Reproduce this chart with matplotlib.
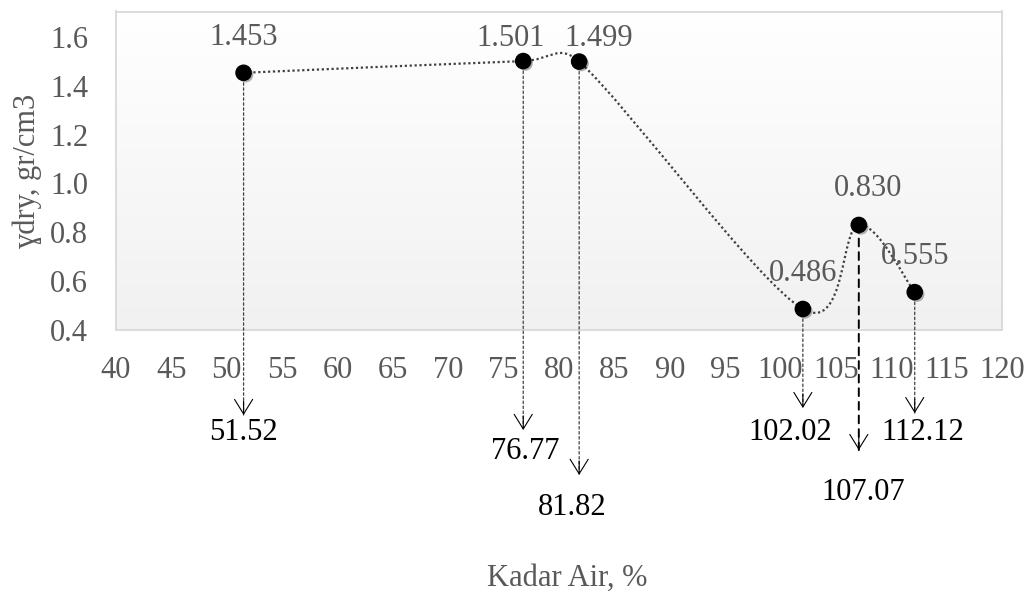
import numpy as np
import matplotlib
matplotlib.use("Agg")
import matplotlib.pyplot as plt
import matplotlib.transforms as mtransforms
from matplotlib.path import Path
from matplotlib.patches import PathPatch
from matplotlib.colors import LinearSegmentedColormap
import matplotlib.patheffects as pe

# ---------------- data ----------------
kadar_air = [51.52, 76.77, 81.82, 102.02, 107.07, 112.12]
gamma_dry = [1.453, 1.501, 1.499, 0.486, 0.830, 0.555]
point_labels = ["1.453", "1.501", "1.499", "0.486", "0.830", "0.555"]
x_labels = ["51.52", "76.77", "81.82", "102.02", "107.07", "112.12"]
x_ticks = list(range(40, 121, 5))
y_ticks = [0.4, 0.6, 0.8, 1.0, 1.2, 1.4, 1.6]

# ---------------- layout / style ----------------
FONT = ["Liberation Serif", "DejaVu Serif"]
plt.rcParams["font.family"] = FONT
GRAY = "#595959"
FS = 22

# offsets (pixels) for value labels above points
val_dx = [0, -13, 20, 0, 9, 0]
val_dy = [35, 23, 23, 35, 36, 36]
# arrow tip / label positions (axes fraction) and label x offsets (pixels)
tip_frac = [-0.267, -0.314, -0.455, -0.245, -0.377, -0.261]
lab_frac = [-0.323, -0.383, -0.556, -0.323, -0.509, -0.323]
lab_dx = [0, 2, -7, -13, 4, 8]

fig = plt.figure(figsize=(10.32, 5.93), dpi=100)
ax = fig.add_axes([116 / 1032, 1 - 330 / 593, 886 / 1032, 318.5 / 593])

# gradient background
cmap = LinearSegmentedColormap.from_list("bg", ["#ffffff", "#f1f1f1"])
grad = np.linspace(0, 1, 256).reshape(-1, 1)
ax.imshow(grad, cmap=cmap, extent=(0, 1, 0, 1), transform=ax.transAxes,
          aspect="auto", zorder=0, origin="upper")

ax.set_xlim(40, 120)
ax.set_ylim(0.4, 1.704)
ax.set_xticks(x_ticks)
ax.set_xticklabels([str(t) for t in x_ticks])
ax.set_yticks(y_ticks)
ax.set_yticklabels([f"{t:.1f}" for t in y_ticks])
ax.tick_params(axis="both", length=0, labelsize=FS, labelcolor=GRAY)
ax.tick_params(axis="x", pad=19)
ax.tick_params(axis="y", pad=20)
for s in ax.spines.values():
    s.set_color("#d9d9d9")
    s.set_linewidth(1.3)

# ---------------- smooth curve (Excel-like bezier) ----------------
pts_data = np.column_stack([kadar_air, gamma_dry])
P = ax.transData.transform(pts_data)
n = len(P)
verts = [tuple(P[0])]
codes = [Path.MOVETO]
for i in range(n - 1):
    p0 = P[i - 1] if i > 0 else P[i]
    p1 = P[i]
    p2 = P[i + 1]
    p3 = P[i + 2] if i + 2 < n else P[i + 1]
    d02 = np.hypot(*(p2 - p0))
    d12 = np.hypot(*(p2 - p1))
    d13 = np.hypot(*(p3 - p1))
    f = 1 / 6
    f1 = f if (d02 / 6 < d12 / 2) else d12 / (2 * d02)
    f2 = f if (d13 / 6 < d12 / 2) else d12 / (2 * d13)
    c1 = p1 + f1 * (p2 - p0)
    c2 = p2 - f2 * (p3 - p1)
    verts += [tuple(c1), tuple(c2), tuple(p2)]
    codes += [Path.CURVE4] * 3
verts_data = ax.transData.inverted().transform(np.array(verts))
curve = PathPatch(Path(verts_data, codes), facecolor="none", edgecolor="#404040",
                  linewidth=1.6, linestyle=(0, (1, 1.2)), zorder=3)
ax.add_patch(curve)

ax.scatter(kadar_air, gamma_dry, s=120, color="black", zorder=5,
           path_effects=[pe.SimplePatchShadow(offset=(1.5, -1.5), alpha=0.3), pe.Normal()])

# value labels
for x, y, t, dx, dy in zip(kadar_air, gamma_dry, point_labels, val_dx, val_dy):
    ax.annotate(t, xy=(x, y), xytext=(dx, dy), textcoords="offset pixels",
                ha="center", va="center", fontsize=FS, color=GRAY, zorder=6)

# arrows down to x labels
blend = mtransforms.blended_transform_factory(ax.transData, ax.transAxes)
for i, (x, y, t) in enumerate(zip(kadar_air, gamma_dry, x_labels)):
    special = (t == "107.07")
    ls = (0, (4, 3)) if special else (0, (2, 2))
    lw = 1.4 if special else 0.9
    col = "black" if special else "#404040"
    ax.annotate("", xy=(x, tip_frac[i]), xycoords=blend,
                xytext=(x, y), textcoords="data",
                arrowprops=dict(arrowstyle="-", linestyle=ls, lw=lw, color=col,
                                shrinkA=0, shrinkB=0),
                annotation_clip=False, zorder=4)
    ax.annotate("", xy=(x, tip_frac[i]), xycoords=blend,
                xytext=(0, 14), textcoords="offset pixels",
                arrowprops=dict(arrowstyle="->,head_length=1.05,head_width=0.65",
                                lw=0.8, color="black", shrinkA=0, shrinkB=0,
                                mutation_scale=10),
                annotation_clip=False, zorder=4)
    ax.annotate(t, xy=(x, lab_frac[i]), xycoords=blend,
                xytext=(lab_dx[i], 0), textcoords="offset pixels",
                ha="center", va="center", fontsize=FS, color="black",
                annotation_clip=False)

fig.text(27 / 1032, 1 - 171 / 593, "ɣdry, gr/cm3", rotation=90, ha="center",
         va="center", fontsize=FS, color=GRAY, family=FONT)
fig.text(567 / 1032, 1 - 578 / 593, "Kadar Air, %", ha="center", va="center",
         fontsize=FS, color=GRAY)

fig.savefig("out.png", dpi=100)
